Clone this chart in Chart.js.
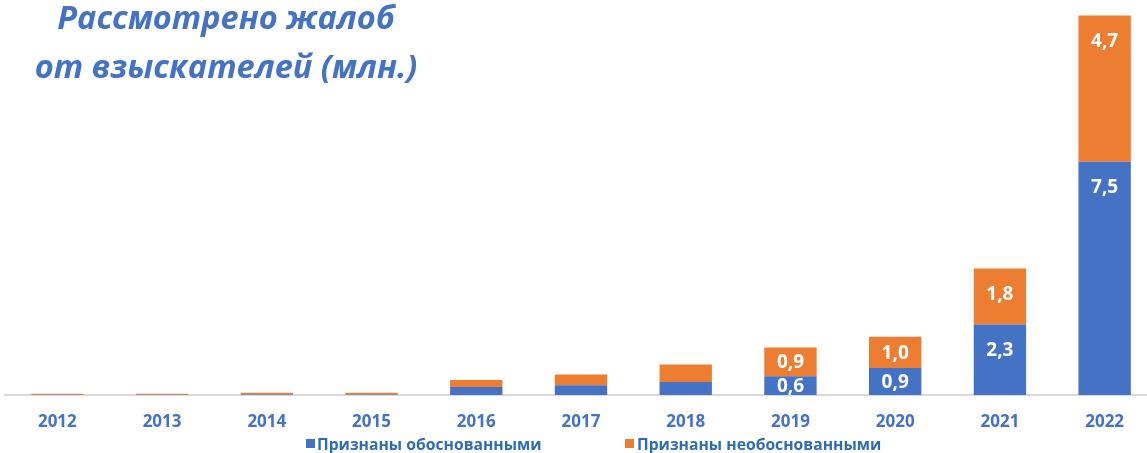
<!DOCTYPE html>
<html>
<head>
<meta charset="utf-8">
<script src="https://cdn.jsdelivr.net/npm/chart.js@4/dist/chart.umd.min.js"></script>
<style>
  html, body { margin: 0; padding: 0; background: #fff; overflow: hidden; }
  #wrap { position: relative; width: 1160px; height: 453px; }
  #title {
    position: absolute; left: 0; top: -8px; width: 452px; text-align: center;
    font-family: "Open Sans", sans-serif; font-weight: 700; font-style: italic;
    font-size: 32.5px; line-height: 49px; color: #4472C4; z-index: 2;
  }
  .leg { position: absolute; top: 434px; font-family: "Open Sans", sans-serif; font-weight: 700;
    font-size: 15.7px; line-height: 20px; color: #2E6DB4; white-space: nowrap; }
  .sw { position: absolute; top: 5px; width: 9px; height: 9px; }
</style>
</head>
<body>
<div id="wrap">
  <div id="title">Рассмотрено жалоб<br>от взыскателей (млн.)</div>
  <canvas id="c"></canvas>
  <div class="leg" id="leg1" style="left:306px;"><span class="sw" style="left:0;background:#4472C4"></span><span style="margin-left:11px" id="lt1"></span></div>
  <div class="leg" id="leg2" style="left:625px;"><span class="sw" style="left:0;background:#ED7D31"></span><span style="margin-left:12px" id="lt2"></span></div>
</div>
<script>
const categories = ["2012","2013","2014","2015","2016","2017","2018","2019","2020","2021","2022"];
const justified   = [0.01, 0.01, 0.02, 0.02, 0.26, 0.31, 0.42, 0.60, 0.87, 2.27, 7.50];
const unjustified = [0.03, 0.03, 0.05, 0.05, 0.22, 0.35, 0.56, 0.93, 1.00, 1.80, 4.70];
const seriesNames = ["Признаны обоснованными", "Признаны необоснованными"];
const firstLabeledIndex = 7;

document.getElementById('lt1').textContent = seriesNames[0];
document.getElementById('lt2').textContent = seriesNames[1];

const labelPlugin = {
  id: 'segLabels',
  afterDatasetsDraw(chart) {
    const ctx = chart.ctx;
    ctx.save();
    ctx.fillStyle = '#FFFFFF';
    ctx.font = 'bold 19px "Open Sans", sans-serif';
    ctx.textAlign = 'center';
    ctx.textBaseline = 'middle';
    chart.data.datasets.forEach((ds, di) => {
      const meta = chart.getDatasetMeta(di);
      meta.data.forEach((bar, i) => {
        if (i < firstLabeledIndex) return;
        const h = bar.base - bar.y;
        const cy = bar.y + Math.min(h / 2, 25);
        const txt = ds.data[i].toFixed(1).replace('.', ',');
        ctx.fillText(txt, bar.x, cy + 1);
      });
    });
    ctx.restore();
  }
};

new Chart(document.getElementById('c'), {
  type: 'bar',
  data: {
    labels: categories,
    datasets: [
      { label: seriesNames[0], data: justified, backgroundColor: '#4472C4', borderWidth: 0 },
      { label: seriesNames[1], data: unjustified, backgroundColor: '#ED7D31', borderWidth: 0 }
    ]
  },
  options: {
    responsive: true,
    maintainAspectRatio: false,
    animation: false,
    layout: { padding: { left: 5, right: 3, top: 0, bottom: 16 } },
    plugins: { legend: { display: false }, tooltip: { enabled: false }, title: { display: false } },
    datasets: { bar: { categoryPercentage: 1.0, barPercentage: 0.5 } },
    scales: {
      x: {
        stacked: true,
        grid: { display: false, drawTicks: false },
        border: { display: true, color: '#D9D9D9', width: 2 },
        ticks: { color: '#4472C4', font: { family: '"Open Sans", sans-serif', weight: 'bold', size: 17 }, padding: 17, maxRotation: 0 },
        afterFit(axis) { axis.height = 42; }
      },
      y: {
        stacked: true, display: false, min: 0, max: 12.7
      }
    }
  },
  plugins: [labelPlugin]
});
</script>
</body>
</html>
